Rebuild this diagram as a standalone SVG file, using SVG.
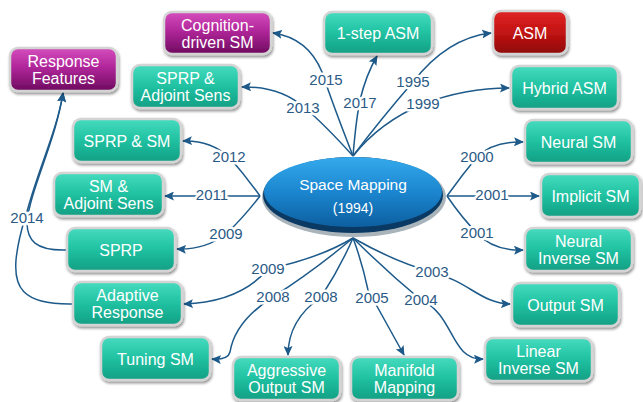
<svg xmlns="http://www.w3.org/2000/svg" width="643" height="402" viewBox="0 0 643 402">
<defs>
<linearGradient id="gT" x1="0" y1="0" x2="0" y2="1"><stop offset="0" stop-color="#46dbbf"/><stop offset="0.45" stop-color="#22c4a4"/><stop offset="1" stop-color="#119f84"/></linearGradient>
<linearGradient id="gM" x1="0" y1="0" x2="0" y2="1"><stop offset="0" stop-color="#d54dbd"/><stop offset="0.45" stop-color="#b0269a"/><stop offset="1" stop-color="#6e0b5e"/></linearGradient>
<linearGradient id="gR" x1="0" y1="0" x2="0" y2="1"><stop offset="0" stop-color="#e02424"/><stop offset="0.5" stop-color="#c21313"/><stop offset="1" stop-color="#8e0808"/></linearGradient>
<linearGradient id="gE" x1="0" y1="0" x2="0" y2="1"><stop offset="0" stop-color="#35a9ec"/><stop offset="0.5" stop-color="#1b86cf"/><stop offset="1" stop-color="#0d5fa0"/></linearGradient>
<filter id="sh" x="-20%" y="-20%" width="140%" height="150%"><feGaussianBlur in="SourceAlpha" stdDeviation="1.5"/><feOffset dx="1" dy="2" result="b"/><feComponentTransfer><feFuncA type="linear" slope="0.45"/></feComponentTransfer><feMerge><feMergeNode/><feMergeNode in="SourceGraphic"/></feMerge></filter>
<marker id="ah" markerWidth="10" markerHeight="9" refX="9" refY="4.5" orient="auto" markerUnits="userSpaceOnUse"><path d="M0,0 L10,4.5 L0,9 L2,4.5 z" fill="#1d5a8a"/></marker>
</defs>
<style>
.box{stroke:#d4d4d4;stroke-width:2.5;filter:url(#sh)}
.hl{fill:none;stroke:#ffffff;stroke-opacity:0.35;stroke-width:1}
.t{font-family:"Liberation Sans",Arial,sans-serif;font-size:16px;fill:#ffffff;text-anchor:middle}
.c{fill:none;stroke:#1d5a8a;stroke-width:1.5}
.a{marker-end:url(#ah)}
.y{font-family:"Liberation Sans",Arial,sans-serif;font-size:15px;fill:#2b5a86;text-anchor:middle;paint-order:stroke;stroke:#ffffff;stroke-width:5;stroke-linejoin:round}
</style>
<rect width="643" height="402" fill="#ffffff"/>

<g id="connectors">
<path class="c a" d="M353,156 Q333,105 322,72 Q308,38 273,33"/>
<path class="c a" d="M353,156 Q325,125 305,108 Q280,86 242,87"/>
<path class="c a" d="M353,156 Q356,120 360,100 Q366,75 377,56"/>
<path class="c a" d="M353,156 Q380,120 413,82 Q447,38 491,33"/>
<path class="c a" d="M353,156 Q380,122 423,104 Q465,88 509,88"/>
<path class="c a" d="M447,196 Q462,175 477,157 Q493,141 523,142"/>
<path class="c a" d="M447,196 L539,196"/>
<path class="c a" d="M447,196 Q462,218 477,233 Q493,251 523,250"/>
<path class="c a" d="M353,238 Q395,262 432,272 C470,282 480,303 510,304"/>
<path class="c a" d="M353,238 Q385,270 421,300 C455,315 450,360 483,359"/>
<path class="c a" d="M353,238 Q362,262 368,290 L404,355"/>
<path class="c a" d="M353,238 Q340,268 321,297 Q288,320 288,355"/>
<path class="c a" d="M353,238 Q315,270 273,297 C240,318 232,340 230,352 Q228,360 212,359"/>
<path class="c a" d="M353,238 Q320,258 268,269 Q240,302 184,304"/>
<path class="c a" d="M260,196 Q245,175 229,157 Q210,140 183,141"/>
<path class="c a" d="M260,196 L165,196"/>
<path class="c a" d="M260,196 Q243,218 226,234 Q205,250 177,249"/>
<path class="c a" d="M67,250 C35,251 27,240 27,222 C30,190 56,140 63,93"/>
<path class="c a" d="M73,304 C20,305 14,285 16,260 C18,238 24,222 28,208 C40,165 57,130 63,93"/>
<text class="y" x="326" y="85">2015</text>
<text class="y" x="303" y="113">2013</text>
<text class="y" x="360" y="108">2017</text>
<text class="y" x="413" y="87">1995</text>
<text class="y" x="423" y="109">1999</text>
<text class="y" x="477" y="162">2000</text>
<text class="y" x="492" y="200">2001</text>
<text class="y" x="477" y="238">2001</text>
<text class="y" x="432" y="277">2003</text>
<text class="y" x="421" y="305">2004</text>
<text class="y" x="372" y="303">2005</text>
<text class="y" x="321" y="302">2008</text>
<text class="y" x="273" y="302">2008</text>
<text class="y" x="268" y="274">2009</text>
<text class="y" x="229" y="162">2012</text>
<text class="y" x="212" y="200">2011</text>
<text class="y" x="226" y="239">2009</text>
<text class="y" x="27" y="223">2014</text>
</g>

<g id="space-mapping">
<ellipse cx="354" cy="197" rx="92" ry="40" fill="#a9b3ba"/>
<ellipse cx="353" cy="195" rx="90" ry="38" fill="#0a3a63"/>
<ellipse cx="353" cy="192" rx="89" ry="35" fill="url(#gE)"/>
<text class="t" x="353" y="190" style="font-size:15.5px">Space Mapping</text>
<text class="t" x="353" y="213" style="font-size:14px">(1994)</text>
</g>

<g id="cognition-driven-sm"><rect class="box" x="164" y="12" width="107" height="42" rx="8" fill="url(#gM)"/><text class="t" x="217.5" y="30.5">Cognition-</text><text class="t" x="217.5" y="47.5">driven SM</text></g>
<g id="response-features"><rect class="box" x="10" y="48" width="107" height="43" rx="8" fill="url(#gM)"/><text class="t" x="63.5" y="67">Response</text><text class="t" x="63.5" y="84">Features</text></g>
<g id="sprp-adjoint-sens"><rect class="box" x="132" y="65" width="107" height="43" rx="8" fill="url(#gT)"/><text class="t" x="185.5" y="84">SPRP &amp;</text><text class="t" x="185.5" y="101">Adjoint Sens</text></g>
<g id="one-step-asm"><rect class="box" x="324" y="12" width="108" height="42" rx="8" fill="url(#gT)"/><text class="t" x="378" y="39">1-step ASM</text></g>
<g id="asm"><rect class="box" x="493" y="11" width="74" height="43" rx="8" fill="url(#gR)"/><text class="t" x="530" y="38.5">ASM</text></g>
<g id="hybrid-asm"><rect class="box" x="511" y="66" width="107" height="43" rx="8" fill="url(#gT)"/><text class="t" x="564.5" y="93.5">Hybrid ASM</text></g>
<g id="neural-sm"><rect class="box" x="525" y="120" width="107" height="43" rx="8" fill="url(#gT)"/><text class="t" x="578.5" y="147.5">Neural SM</text></g>
<g id="implicit-sm"><rect class="box" x="541" y="174" width="99" height="43" rx="8" fill="url(#gT)"/><text class="t" x="590.5" y="201.5">Implicit SM</text></g>
<g id="neural-inverse-sm"><rect class="box" x="525" y="228" width="107" height="43" rx="8" fill="url(#gT)"/><text class="t" x="578.5" y="247">Neural</text><text class="t" x="578.5" y="264">Inverse SM</text></g>
<g id="output-sm"><rect class="box" x="512" y="283" width="107" height="43" rx="8" fill="url(#gT)"/><text class="t" x="565.5" y="310.5">Output SM</text></g>
<g id="linear-inverse-sm"><rect class="box" x="485" y="338" width="107" height="43" rx="8" fill="url(#gT)"/><text class="t" x="538.5" y="357">Linear</text><text class="t" x="538.5" y="374">Inverse SM</text></g>
<g id="manifold-mapping"><rect class="box" x="351" y="357" width="107" height="43" rx="8" fill="url(#gT)"/><text class="t" x="404.5" y="376">Manifold</text><text class="t" x="404.5" y="393">Mapping</text></g>
<g id="aggressive-output-sm"><rect class="box" x="233" y="357" width="107" height="43" rx="8" fill="url(#gT)"/><text class="t" x="286.5" y="376">Aggressive</text><text class="t" x="286.5" y="393">Output SM</text></g>
<g id="tuning-sm"><rect class="box" x="101" y="337" width="109" height="43" rx="8" fill="url(#gT)"/><text class="t" x="155.5" y="364.5">Tuning SM</text></g>
<g id="adaptive-response"><rect class="box" x="73" y="282" width="109" height="43" rx="8" fill="url(#gT)"/><text class="t" x="127.5" y="301">Adaptive</text><text class="t" x="127.5" y="318">Response</text></g>
<g id="sprp"><rect class="box" x="67" y="228" width="108" height="43" rx="8" fill="url(#gT)"/><text class="t" x="121" y="255.5">SPRP</text></g>
<g id="sm-adjoint-sens"><rect class="box" x="54" y="173" width="109" height="43" rx="8" fill="url(#gT)"/><text class="t" x="108.5" y="192">SM &amp;</text><text class="t" x="108.5" y="209">Adjoint Sens</text></g>
<g id="sprp-sm"><rect class="box" x="73" y="119" width="108" height="43" rx="8" fill="url(#gT)"/><text class="t" x="127" y="146.5">SPRP &amp; SM</text></g>
</svg>
